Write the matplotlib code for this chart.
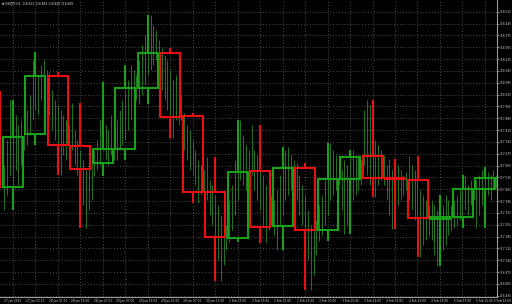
import matplotlib
matplotlib.use("Agg")
import matplotlib.pyplot as plt
from matplotlib.patches import Rectangle
import matplotlib.transforms as mtransforms

# H8 candles (first one is cut by the left edge)
c_open  = [118.040, 117.478, 117.792, 118.135, 117.721, 117.620, 117.703, 118.064,
           118.271, 117.898, 117.449, 117.177, 117.573, 117.248, 117.591, 117.224,
           117.526, 117.662, 117.529, 117.520, 117.289, 117.301, 117.467]
c_high  = [118.052, 117.993, 118.277, 118.158, 117.975, 118.099, 118.200, 118.495,
           118.300, 117.916, 117.656, 117.875, 117.845, 117.715, 117.620, 117.739,
           117.697, 117.993, 117.644, 117.662, 117.431, 117.549, 117.597]
c_low   = [117.431, 117.342, 117.727, 117.549, 117.236, 117.543, 117.638, 117.969,
           117.768, 117.384, 116.923, 117.153, 117.147, 117.106, 116.870, 117.159,
           117.201, 117.419, 117.230, 117.065, 117.011, 117.236, 117.236]
c_close = [117.478, 117.774, 118.135, 117.727, 117.585, 117.703, 118.064, 118.271,
           117.892, 117.449, 117.183, 117.567, 117.242, 117.591, 117.224, 117.526,
           117.656, 117.532, 117.523, 117.295, 117.301, 117.467, 117.532]

# H1 bars, 8 per candle
h1_high = [
    117.609, 117.756, 117.993, 117.875, 117.904, 117.845, 117.875, 117.815,
    117.934, 118.022, 118.229, 118.277, 118.141, 118.200, 118.229, 118.170,
    118.158, 118.052, 117.993, 117.963, 117.934, 117.904, 117.875, 117.845,
    117.975, 117.815, 117.756, 117.697, 117.638, 117.579, 117.609, 117.668,
    117.697, 117.756, 117.875, 118.099, 117.845, 117.815, 117.904, 117.786,
    117.875, 117.934, 117.993, 118.052, 118.111, 118.200, 118.170, 118.141,
    118.229, 118.318, 118.377, 118.466, 118.495, 118.436, 118.407, 118.348,
    118.300, 118.259, 118.229, 118.170, 118.111, 118.141, 118.052, 118.022,
    117.916, 117.845, 117.815, 117.756, 117.697, 117.638, 117.609, 117.579,
    117.656, 117.520, 117.490, 117.431, 117.372, 117.313, 117.283, 117.254,
    117.402, 117.490, 117.638, 117.756, 117.875, 117.786, 117.727, 117.697,
    117.845, 117.697, 117.668, 117.609, 117.549, 117.490, 117.461, 117.431,
    117.402, 117.461, 117.549, 117.609, 117.697, 117.715, 117.668, 117.638,
    117.620, 117.549, 117.490, 117.431, 117.342, 117.254, 117.224, 117.283,
    117.372, 117.431, 117.520, 117.638, 117.739, 117.697, 117.668, 117.609,
    117.579, 117.638, 117.609, 117.668, 117.697, 117.650, 117.668, 117.638,
    117.934, 117.993, 117.963, 117.845, 117.756, 117.727, 117.697, 117.668,
    117.609, 117.644, 117.579, 117.549, 117.609, 117.579, 117.549, 117.567,
    117.662, 117.609, 117.579, 117.520, 117.461, 117.431, 117.402, 117.372,
    117.402, 117.372, 117.342, 117.313, 117.372, 117.431, 117.402, 117.372,
    117.402, 117.431, 117.461, 117.520, 117.549, 117.490, 117.520, 117.490,
    117.520, 117.549, 117.579, 117.597, 117.567, 117.549, 117.579, 117.549,
]
h1_low = [
    117.342, 117.431, 117.549, 117.461, 117.579, 117.490, 117.609, 117.697,
    117.727, 117.786, 117.875, 117.934, 117.904, 117.993, 118.022, 118.052,
    117.904, 117.815, 117.756, 117.697, 117.549, 117.668, 117.638, 117.697,
    117.697, 117.609, 117.549, 117.461, 117.372, 117.236, 117.342, 117.402,
    117.543, 117.579, 117.609, 117.697, 117.638, 117.609, 117.668, 117.638,
    117.638, 117.697, 117.727, 117.756, 117.815, 117.875, 117.934, 117.993,
    117.969, 118.022, 118.081, 118.141, 118.170, 118.200, 118.229, 118.259,
    118.052, 117.993, 117.934, 117.845, 117.768, 117.875, 117.845, 117.875,
    117.697, 117.638, 117.579, 117.549, 117.490, 117.384, 117.431, 117.431,
    117.402, 117.313, 117.254, 117.165, 117.047, 116.923, 117.017, 117.106,
    117.153, 117.224, 117.313, 117.402, 117.520, 117.490, 117.461, 117.520,
    117.549, 117.461, 117.402, 117.342, 117.254, 117.147, 117.224, 117.254,
    117.195, 117.106, 117.254, 117.313, 117.402, 117.431, 117.461, 117.490,
    117.402, 117.313, 117.254, 117.165, 117.047, 116.870, 116.958, 117.076,
    117.159, 117.195, 117.254, 117.313, 117.402, 117.431, 117.461, 117.490,
    117.342, 117.201, 117.254, 117.313, 117.402, 117.431, 117.461, 117.490,
    117.609, 117.549, 117.490, 117.461, 117.419, 117.490, 117.520, 117.490,
    117.402, 117.313, 117.230, 117.283, 117.372, 117.402, 117.431, 117.461,
    117.402, 117.342, 117.283, 117.195, 117.065, 117.136, 117.165, 117.195,
    117.165, 117.076, 117.011, 117.047, 117.106, 117.136, 117.195, 117.224,
    117.236, 117.254, 117.283, 117.313, 117.342, 117.313, 117.372, 117.402,
    117.236, 117.313, 117.372, 117.402, 117.431, 117.402, 117.461, 117.473,
]

x_labels = ["27 Jan 2015", "27 Jan 23:00", "28 Jan 07:00", "28 Jan 15:00", "28 Jan 23:00",
            "29 Jan 07:00", "29 Jan 15:00", "29 Jan 23:00", "30 Jan 07:00", "30 Jan 15:00",
            "1 Feb 23:00", "2 Feb 07:00", "2 Feb 15:00", "2 Feb 23:00", "3 Feb 07:00",
            "3 Feb 15:00", "3 Feb 23:00", "4 Feb 07:00", "4 Feb 15:00", "4 Feb 23:00",
            "5 Feb 07:00", "5 Feb 15:00", "5 Feb 23:00"]
y_ticks = [118.515 - 0.07 * i for i in range(25)]
title = "USDJPY,H1  118.823 118.884 118.809 118.849"

bar_col = "#257d25"
up_col = "#18a018"
dn_col = "#e81010"
grid_col = "#4e4e4e"
fs = 2.1

fig = plt.figure(figsize=(5.12, 3.04), dpi=100, facecolor="black")
ax = fig.add_axes([0, 7 / 304, 497 / 512, 297 / 304], facecolor="black")

# grid
for k in range(len(x_labels)):
    ax.axvline(3 + 8 * k, color=grid_col, lw=0.7, ls=(0, (1, 2)), zorder=0)
for y in y_ticks:
    ax.axhline(y, color=grid_col, lw=0.7, ls=(0, (1, 2)), zorder=0)

# H1 bars
xs = list(range(len(h1_high)))
ax.vlines(xs, h1_low, h1_high, color=bar_col, lw=0.65, zorder=2)

# H8 candles
for j in range(len(c_open)):
    k = j - 1
    left = 8 * k - 0.5
    w = 7.1
    mid = left + w / 2
    o, h, l, c = c_open[j], c_high[j], c_low[j], c_close[j]
    col = up_col if c >= o else dn_col
    top, bot = max(o, c), min(o, c)
    if top - bot < 0.004:
        top += 0.002
        bot -= 0.002
    ax.add_patch(Rectangle((left, bot), w, top - bot, fill=False,
                           edgecolor=col, lw=1.5, zorder=3))
    ax.vlines(mid, top, h, color=col, lw=1.5, zorder=3)
    ax.vlines(mid, l, bot, color=col, lw=1.5, zorder=3)

ax.set_xlim(-1.57, 175.3)
ax.set_ylim(116.828, 118.584)

# axes decoration
for s in ["top", "left"]:
    ax.spines[s].set_visible(False)
for s in ["right", "bottom"]:
    ax.spines[s].set_color("#9a9a9a")
    ax.spines[s].set_linewidth(0.8)
ax.yaxis.tick_right()
ax.set_yticks(y_ticks)
ax.set_yticklabels([f"{v:.3f}" for v in y_ticks])
ax.tick_params(axis="y", colors="#9a9a9a", labelcolor="#d8d8d8",
               labelsize=fs, length=1.5, width=0.6, pad=0.5)
ax.set_xticks([])

trans = mtransforms.blended_transform_factory(ax.transData, ax.transAxes)
for k, lab in enumerate(x_labels[:-1]):
    ax.text(3 + 8 * k, -0.006, lab, transform=trans, ha="center", va="top",
            fontsize=fs, color="#d8d8d8", clip_on=False)
# last label sits against the right edge of the figure
ax.text(1.028, -0.006, x_labels[-1], transform=ax.transAxes, ha="right", va="top",
        fontsize=fs, color="#d8d8d8", clip_on=False)

ax.text(0.004, 0.994, "\u25bc " + title, transform=ax.transAxes, ha="left", va="top",
        fontsize=fs, color="#e0e0e0", zorder=5)

fig.savefig("out.png", dpi=100, facecolor="black")
